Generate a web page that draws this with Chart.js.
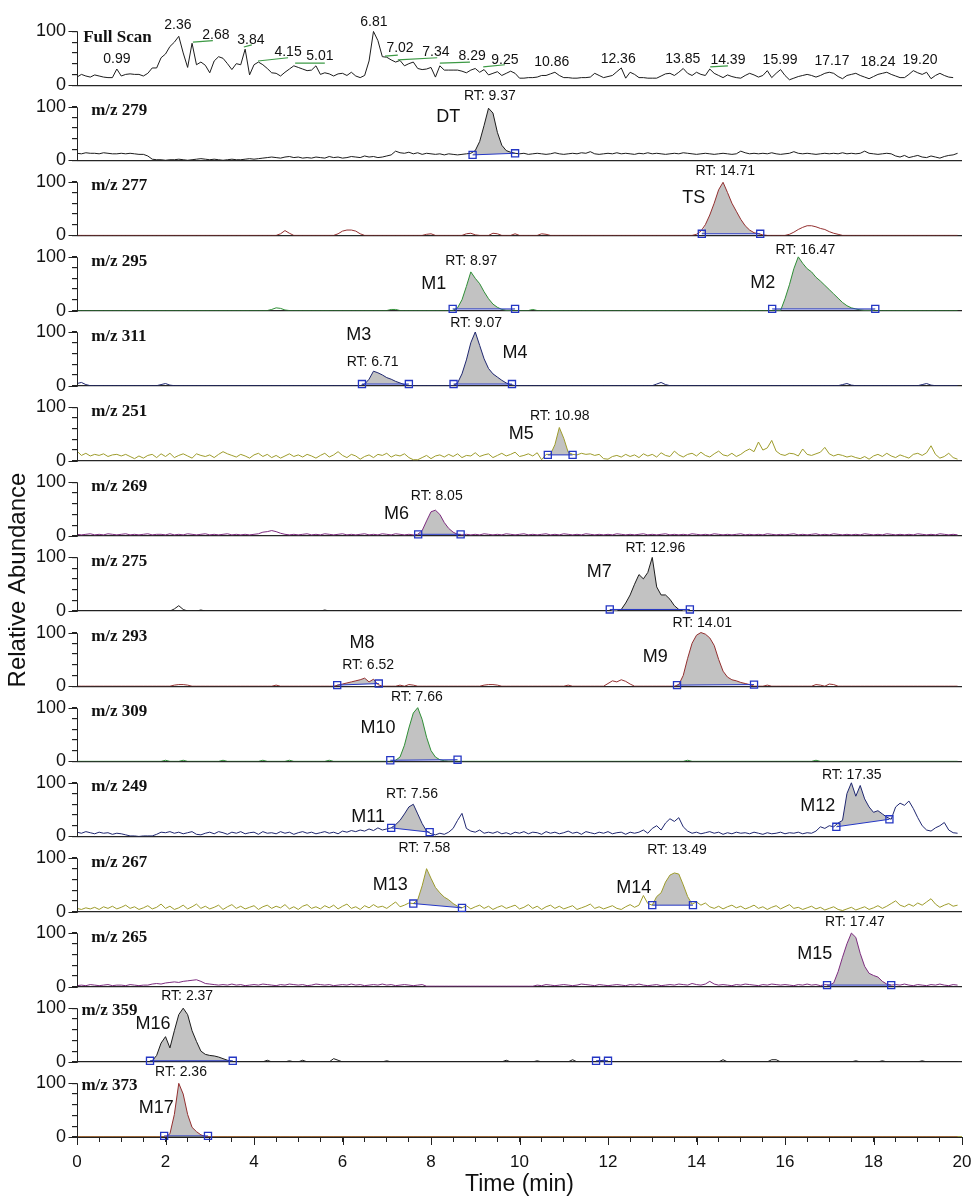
<!DOCTYPE html>
<html>
<head>
<meta charset="utf-8">
<title>Extracted ion chromatograms</title>
<script src="https://cdn.jsdelivr.net/npm/chart.js@4.4.1/dist/chart.umd.min.js"></script>
<style>
  html, body { margin: 0; padding: 0; background: #fff; }
  #chromChart { display: block; }
</style>
</head>
<body>
<canvas id="chromChart" width="974" height="1199"></canvas>
<script>
// one value every 0.1 min, 0.0 .. 20.0 min (201 values per trace)
const POINTS_PER_MIN = 10;

const panelNames = ['Full Scan', 'm/z 279', 'm/z 277', 'm/z 295', 'm/z 311', 'm/z 251', 'm/z 269', 'm/z 275',
                    'm/z 293', 'm/z 309', 'm/z 249', 'm/z 267', 'm/z 265', 'm/z 359', 'm/z 373'];

const fullScan = [
  15,20,17,15,19,17,15,14,14,30, 17,20,21,20,20,17,22,32,32,51, 58,72,80,91,60,33,78,38,43,37,
  23,45,53,50,40,29,40,38,67,19, 38,43,38,31,23,22,17,24,30,36, 33,30,27,28,36,20,23,21,17,21,
  22,18,24,17,14,18,45,100,83,53, 52,47,43,46,36,40,43,31,29,30, 33,15,36,28,28,28,28,26,23,28,
  31,24,29,19,22,25,18,22,26,22, 13,13,14,14,15,18,18,21,24,18, 14,14,13,13,14,14,15,22,18,14,
  16,18,25,32,13,24,20,14,14,13, 13,13,17,21,22,18,24,31,22,18, 24,20,18,30,22,18,14,19,16,14,
  13,18,22,19,15,18,27,14,22,29, 18,10,13,16,18,20,18,15,18,22, 24,22,16,12,18,20,22,18,15,12,
  16,20,22,24,20,17,14,14,20,27, 23,20,24,12,18,22,18,15,14,null, null];

const mz279 = [
  13,12,14,13,13,12,14,13,12,12, 13,12,13,12,11,11,8,2,1,1, 0,1,1,2,1,0,1,2,3,2,
  1,2,1,0,1,2,1,1,2,3, 2,3,4,5,6,5,4,6,7,5, 6,4,5,4,6,5,4,7,5,6,
  4,5,7,6,5,8,6,7,5,6, 8,10,17,14,13,15,12,14,11,13, 12,11,12,10,12,11,10,11,12,13,
  18,35,65,97,88,52,28,18,15,13, 12,13,11,12,13,12,11,12,14,12, 11,12,13,12,14,13,16,12,11,12,
  13,12,14,12,13,12,11,13,12,14, 12,13,12,11,12,13,12,14,13,12, 11,12,13,12,11,12,13,12,11,12,
  17,14,12,13,12,13,12,14,12,11, 12,13,16,13,12,13,12,11,12,13, 12,13,12,14,12,13,12,13,17,13,
  12,11,12,13,12,8,6,9,5,7, 9,6,5,8,6,4,7,9,10,13, null];

const mz277 = [
  0,0,0,0,0,0,0,0,0,0, 0,0,0,0,0,0,0,0,0,0, 0,0,0,0,0,0,0,0,0,0,
  0,0,0,0,0,0,0,0,0,0, 0,0,0,0,0,0,3,9,4,0, 0,0,0,0,0,0,0,0,0,3,
  8,10,10,8,3,0,0,0,0,0, 0,0,0,0,0,0,0,0,0,2, 3,0,0,0,0,0,0,0,3,4,
  1,0,0,0,4,3,0,0,0,3, 0,0,0,0,0,3,2,0,0,0, 0,0,0,0,0,0,0,0,0,0,
  0,0,0,0,0,0,0,0,0,0, 0,0,0,0,0,0,0,0,0,0, 2,8,20,38,60,85,99,80,60,45,
  30,18,10,5,3,1,0,0,0,0, 0,2,6,11,15,18,18,16,13,11, 7,4,2,0,0,0,0,0,0,0,
  0,0,0,0,0,0,0,0,0,0, 0,0,0,0,0,0,0,0,0,0, null];

const mz295 = [
  0,0,0,0,0,0,0,0,0,0, 0,0,0,0,0,0,0,0,0,0, 0,0,0,0,0,0,0,0,0,0,
  0,0,0,0,0,0,0,0,0,0, 0,0,0,0,2,5,4,1,0,0, 0,0,0,0,0,0,0,0,0,0,
  0,0,0,0,0,0,0,0,0,0, 0,2,2,0,0,0,0,0,0,0, 0,0,0,0,0,0,5,20,45,72,
  60,50,35,22,12,6,2,0,0,0, 0,0,0,2,0,0,0,0,0,0, 0,0,0,0,0,0,0,0,0,0,
  0,0,0,0,0,0,0,0,0,0, 0,0,0,0,0,0,0,0,0,0, 0,0,0,0,0,0,0,0,0,0,
  0,0,0,0,0,0,0,0,0,0, 22,48,78,100,88,78,72,62,55,47, 39,31,23,15,9,5,3,1,0,0,
  0,0,0,0,0,0,0,0,0,0, 0,0,0,0,0,0,0,0,0,0, null];

const mz311 = [
  4,6,2,0,0,0,0,0,0,0, 0,0,0,0,0,0,0,0,0,2, 4,1,0,0,0,0,0,0,0,0,
  0,0,0,0,0,0,0,0,0,0, 0,0,0,0,0,0,0,0,0,0, 0,0,0,0,0,0,0,0,0,0,
  0,0,0,0,0,3,12,27,24,20, 15,12,8,5,2,0,0,0,0,0, 0,0,0,0,0,0,5,22,48,80,
  100,75,50,32,22,16,10,5,2,0, 0,0,0,0,0,0,0,0,0,0, 0,0,0,0,0,0,0,0,0,0,
  0,0,0,0,0,0,0,0,0,0, 0,3,6,2,0,0,0,0,0,0, 0,0,0,0,0,0,0,0,0,0,
  0,0,0,0,0,0,0,0,0,0, 0,0,0,0,0,0,0,0,0,0, 0,0,0,2,4,1,0,0,0,0,
  0,0,0,0,0,0,0,0,0,0, 0,2,4,1,0,0,0,0,0,0, null];

const mz251 = [
  18,10,14,9,12,10,13,8,11,12, 9,12,8,4,9,5,10,12,6,13, 8,14,6,10,13,9,5,13,10,8,
  11,6,12,17,13,10,7,12,9,5, 11,14,8,12,6,10,5,9,13,8, 11,7,12,9,5,10,14,7,11,17,
  10,6,12,9,3,8,11,6,12,10, 14,7,11,9,13,6,2,2,6,10, 4,9,11,7,12,8,13,6,10,9,
  15,8,11,13,6,10,14,9,12,16, 8,10,13,9,15,2,12,12,30,62, 42,16,12,11,14,12,13,10,12,4,
  3,8,10,7,12,8,11,6,13,9, 12,7,15,10,8,18,11,7,12,14, 9,16,10,7,13,18,11,9,14,8,
  12,18,22,17,35,20,24,38,18,12, 10,14,13,9,22,12,10,13,16,25, 13,9,12,10,7,9,6,4,8,3,
  9,12,8,14,9,6,11,8,5,12, 14,10,15,28,12,5,8,14,6,3, null];

const mz269 = [
  3,2,3,4,2,3,2,4,3,2, 3,4,2,3,2,3,4,2,3,3, 2,4,2,3,2,4,3,2,3,4,
  2,3,2,3,4,2,3,2,3,2, 3,4,7,8,10,8,5,3,2,3, 2,3,4,2,3,2,4,3,2,3,
  4,2,3,2,3,4,2,3,2,4, 3,2,4,3,2,3,2,3,10,28, 45,48,40,25,14,7,3,2,3,2,
  3,2,4,3,2,3,2,4,3,2, 3,4,2,3,2,3,4,2,3,2, 4,3,2,3,2,4,3,2,3,2,
  3,2,4,3,2,3,2,3,4,2, 3,2,3,4,2,3,2,3,2,4, 3,2,3,2,4,3,2,3,2,3,
  4,2,3,2,3,2,4,3,2,3, 2,3,4,2,3,2,3,4,2,3, 2,4,3,2,3,2,3,2,4,3,
  2,3,2,4,3,2,3,2,3,2, 4,3,2,3,2,4,3,2,3,2, null];

const mz275 = [
  0,0,0,0,0,0,0,0,0,0, 0,0,0,0,0,0,0,0,0,0, 0,0,4,10,3,0,0,0,2,0,
  0,0,0,0,0,0,0,0,0,0, 0,0,0,0,0,0,0,0,0,0, 0,0,0,0,0,0,2,0,0,0,
  0,0,0,0,0,0,0,0,0,0, 0,0,0,0,0,0,0,0,0,0, 0,0,0,0,0,0,0,0,0,0,
  0,0,0,0,0,0,0,0,0,0, 0,0,0,0,0,0,0,0,0,0, 0,0,0,0,0,0,0,0,0,0,
  0,0,0,3,15,30,50,68,60,72, 100,45,30,30,22,10,3,0,0,0, 0,0,0,0,0,0,0,0,0,0,
  0,0,0,0,0,0,0,0,0,0, 0,0,0,0,0,0,0,0,0,0, 0,0,0,0,0,0,0,0,0,0,
  0,0,0,0,0,0,0,0,0,0, 0,0,0,0,0,0,0,0,0,0, null];

const mz293 = [
  0,0,0,0,0,0,0,0,0,0, 0,0,0,0,0,0,0,0,0,0, 0,0,2,3,3,2,0,0,0,0,
  0,0,0,0,0,0,0,0,0,0, 0,0,0,0,0,2,0,0,0,0, 0,0,0,0,0,0,0,0,0,2,
  4,6,8,10,12,15,8,13,3,0, 0,0,0,2,0,3,2,0,0,0, 0,0,0,0,0,0,0,0,0,0,
  0,0,2,3,3,2,0,0,0,0, 0,0,0,0,0,0,0,0,0,0, 0,2,0,0,0,0,0,0,0,0,
  5,10,8,12,9,4,0,0,0,0, 0,0,0,0,0,0,3,20,52,80, 95,100,97,90,76,50,28,17,12,10,
  7,5,3,0,0,0,2,0,0,0, 0,0,0,0,0,0,0,3,2,0, 4,3,0,0,0,0,0,0,0,0,
  0,0,0,0,0,0,0,0,0,0, 0,0,0,0,0,0,0,0,0,0, null];

const mz309 = [
  0,0,0,0,0,0,0,0,0,0, 0,0,0,0,0,0,0,0,0,0, 2,0,0,0,2,0,0,0,0,0,
  0,0,0,2,0,0,0,0,0,0, 0,0,2,0,0,0,0,0,2,0, 0,0,0,0,0,0,0,2,0,0,
  0,0,0,0,0,0,0,0,0,0, 0,0,2,8,30,62,90,100,78,45, 20,8,3,1,0,0,0,0,0,0,
  0,0,0,0,0,0,0,0,0,0, 0,0,0,0,0,0,0,0,0,0, 0,0,0,0,0,0,0,0,0,0,
  0,0,0,0,0,0,0,0,0,0, 0,0,0,0,0,0,0,0,2,0, 0,0,0,0,0,0,0,0,0,0,
  0,0,0,0,0,0,0,0,0,0, 0,0,0,0,0,0,0,2,0,0, 0,0,0,0,0,0,0,0,0,0,
  0,0,0,0,0,0,0,0,0,0, 0,0,0,0,0,0,0,0,0,0, null];

const mz249 = [
  8,6,9,7,5,8,6,7,4,6, 5,3,1,1,0,1,1,1,4,8, 7,9,6,8,5,7,9,4,3,6,
  8,5,9,7,4,8,6,9,5,7, 8,4,9,6,7,5,9,6,8,4, 7,9,6,8,5,7,9,6,8,5,
  10,8,11,9,12,10,14,11,16,12, 14,16,22,30,42,55,60,42,24,10, 5,3,6,4,8,15,30,43,15,10,
  8,12,6,8,6,9,5,7,4,8, 6,9,5,8,7,4,9,6,8,5, 7,10,6,8,4,9,7,5,8,6,
  9,5,7,8,4,8,6,8,12,6, 15,20,12,25,33,28,35,18,10,6, 8,5,7,9,6,8,4,7,5,8,
  6,7,5,8,6,4,7,5,6,8, 5,7,6,8,5,7,6,10,18,15, 20,18,25,30,80,100,75,95,70,55,
  45,48,42,36,32,55,62,58,66,52, 35,20,12,10,16,20,26,12,7,6, null];

const mz267 = [
  6,4,7,5,8,4,9,6,10,5, 8,12,6,9,4,7,11,5,8,14, 6,10,4,7,12,5,9,14,6,10,
  5,8,12,4,9,13,6,10,5,8, 11,4,9,12,6,10,7,13,5,9, 4,10,13,6,9,5,11,7,12,5,
  10,14,6,9,4,11,7,13,8,10, 6,12,18,9,12,16,15,22,48,80, 62,45,35,27,22,15,10,7,11,5,
  9,12,6,10,4,8,11,6,9,12, 5,8,13,6,10,4,9,12,6,10, 5,8,11,4,7,10,14,6,9,5,
  8,11,6,4,9,13,8,12,30,15, 12,28,35,55,68,72,70,50,28,14, 18,12,16,9,6,10,5,9,12,7,
  10,5,8,12,6,9,4,8,11,5, 9,13,6,8,4,7,10,5,8,3, 6,9,4,2,5,8,3,6,9,4,
  7,11,6,10,15,20,12,9,14,10, 16,12,18,24,14,8,12,15,10,12, null];

const mz265 = [
  2,3,2,4,3,2,3,4,2,3, 3,2,4,3,2,3,3,5,6,5, 7,8,9,8,10,11,12,13,10,6,
  5,4,3,4,3,5,3,4,2,3, 4,3,5,4,3,2,4,3,5,4, 3,4,2,3,5,4,3,4,2,3,
  4,3,5,3,4,2,3,4,3,5, 3,4,2,3,4,3,2,3,4,1, 1,1,1,1,1,1,1,1,1,1,
  1,1,1,1,1,1,1,1,1,1, 1,1,1,1,3,2,4,3,2,3, 4,3,2,3,5,4,3,2,4,3,
  2,3,4,3,2,4,3,5,3,2, 3,4,2,3,4,3,5,4,3,6, 4,3,5,10,5,3,4,3,2,4,
  3,5,4,3,2,4,3,5,4,3, 4,3,2,4,3,5,3,4,2,4, 3,7,28,55,80,100,92,62,38,25,
  21,18,10,5,3,4,3,5,3,2, 4,3,2,4,3,5,3,2,4,3, null];

const mz359 = [
  0,0,0,0,0,0,0,0,0,0, 0,0,0,0,0,0,0,2,12,35, 47,26,58,88,100,88,58,38,20,14,
  12,11,9,6,3,1,0,0,0,0, 0,0,0,3,0,0,0,0,2,0, 0,3,0,0,0,0,0,0,6,3,
  0,0,0,0,0,0,0,0,0,0, 2,0,0,0,0,0,0,0,0,0, 0,0,0,0,0,0,0,0,0,0,
  0,0,0,0,0,0,0,3,0,0, 0,0,0,0,2,0,0,0,0,0, 0,0,4,0,0,0,0,0,2,3,
  0,0,0,0,0,0,0,0,0,0, 0,0,0,0,0,0,0,0,0,0, 0,0,0,0,0,0,4,0,0,0,
  0,0,0,0,0,0,0,4,4,0, 0,0,0,0,0,0,0,0,0,0, 0,0,0,0,0,0,2,0,0,0,
  0,0,2,0,0,0,0,0,0,0, 0,2,0,0,0,0,0,0,0,0, null];

const mz373 = [
  0,0,0,0,0,0,0,0,0,0, 0,0,0,0,0,0,0,0,0,0, 0,6,42,100,80,42,18,10,4,1,
  0,0,0,0,0,0,0,0,0,0, 0,0,0,0,0,0,0,0,0,0, 0,0,0,0,0,0,0,0,0,0,
  0,0,0,0,0,0,0,0,0,0, 0,0,0,0,0,0,0,0,0,0, 0,0,0,0,0,0,0,0,0,0,
  0,0,0,0,0,0,0,0,0,0, 0,0,0,0,0,0,0,0,0,0, 0,0,0,0,0,0,0,0,0,0,
  0,0,0,0,0,0,0,0,0,0, 0,0,0,0,0,0,0,0,0,0, 0,0,0,0,0,0,0,0,0,0,
  0,0,0,0,0,0,0,0,0,0, 0,0,0,0,0,0,0,0,0,0, 0,0,0,0,0,0,0,0,0,0,
  0,0,0,0,0,0,0,0,0,0, 0,0,0,0,0,0,0,0,0,0, null];

const traces = [fullScan, mz279, mz277, mz295, mz311, mz251, mz269, mz275,
                mz293, mz309, mz249, mz267, mz265, mz359, mz373];

// integration windows: panel, start [min, %], end [min, %]
const peakPanel = [1, 2, 3, 3, 4, 4, 5, 6, 7, 8, 8, 9, 10, 10, 11, 11, 12, 13, 13, 14];
const peakStart = [[8.94, 10], [14.12, 3], [8.49, 3], [15.71, 3], [6.44, 3], [8.51, 3], [10.64, 11],
                   [7.71, 3], [12.04, 3], [5.88, 2], [13.56, 2], [7.08, 2], [7.1, 16], [17.16, 18],
                   [7.6, 15], [13.0, 12], [16.95, 3], [1.65, 2], [11.73, 2], [1.97, 2]];
const peakEnd = [[9.9, 13], [15.44, 3], [9.9, 3], [18.04, 3], [7.5, 3], [9.83, 3], [11.2, 11],
                 [8.67, 3], [13.85, 3], [6.82, 5], [15.3, 3], [8.6, 3], [7.97, 8], [18.36, 32],
                 [8.7, 7], [13.92, 12], [18.4, 3], [3.52, 2], [12.0, 2], [2.96, 2]];

// retention time tags: panel, text, min, %
const rtLabels = [
  [1, 'RT: 9.37', 9.33, 120], [2, 'RT: 14.71', 14.65, 119], [3, 'RT: 8.97', 8.91, 92],
  [3, 'RT: 16.47', 16.46, 113], [4, 'RT: 9.07', 9.02, 116], [4, 'RT: 6.71', 6.68, 44],
  [5, 'RT: 10.98', 10.91, 83], [6, 'RT: 8.05', 8.13, 75], [7, 'RT: 12.96', 13.07, 118],
  [8, 'RT: 6.52', 6.58, 40], [8, 'RT: 14.01', 14.13, 118], [9, 'RT: 7.66', 7.68, 120],
  [10, 'RT: 7.56', 7.57, 79], [10, 'RT: 17.35', 17.51, 115], [11, 'RT: 7.58', 7.85, 118],
  [11, 'RT: 13.49', 13.56, 114], [12, 'RT: 17.47', 17.58, 120], [13, 'RT: 2.37', 2.49, 122],
  [14, 'RT: 2.36', 2.35, 120]];

const compoundLabels = [
  [1, 'DT', 8.39, 80], [2, 'TS', 13.94, 70], [3, 'M1', 8.06, 50], [3, 'M2', 15.5, 52],
  [4, 'M3', 6.37, 95], [4, 'M4', 9.9, 60], [5, 'M5', 10.04, 50], [6, 'M6', 7.22, 40],
  [7, 'M7', 11.8, 72], [8, 'M8', 6.44, 80], [8, 'M9', 13.07, 54], [9, 'M10', 6.8, 62],
  [10, 'M11', 6.58, 36], [10, 'M12', 16.74, 56], [11, 'M13', 7.08, 49], [11, 'M14', 12.58, 44],
  [12, 'M15', 16.67, 61], [13, 'M16', 1.72, 70], [14, 'M17', 1.79, 54]];

// apex tags of the full scan trace: text, min, %
const scanLabels = [
  ['0.99', 0.9, 49], ['2.36', 2.28, 111], ['2.68', 3.14, 94], ['3.84', 3.93, 84], ['4.15', 4.77, 62],
  ['5.01', 5.49, 54], ['6.81', 6.71, 118], ['7.02', 7.3, 68], ['7.34', 8.11, 62], ['8.29', 8.93, 54],
  ['9.25', 9.67, 47], ['10.86', 10.73, 43], ['12.36', 12.23, 49], ['13.85', 13.69, 49],
  ['14.39', 14.71, 47], ['15.99', 15.89, 47], ['17.17', 17.06, 45], ['18.24', 18.1, 43], ['19.20', 19.05, 47]];
const scanLeaders = [
  [2.62, 80, 3.07, 83], [3.77, 71, 3.95, 75], [4.09, 45, 4.77, 51], [4.93, 41, 5.6, 41],
  [6.96, 54, 7.25, 56], [7.25, 47, 8.14, 51], [8.2, 41, 8.88, 43], [9.18, 34, 9.67, 38], [14.31, 34, 14.71, 36]];

const panelNamePos = [[0.14, 88], [0.32, 92], [0.32, 92], [0.32, 92], [0.32, 92], [0.32, 92], [0.32, 92],
                      [0.32, 92], [0.32, 92], [0.32, 92], [0.32, 92], [0.32, 92], [0.32, 92], [0.1, 96], [0.1, 96]];

// styling
const BLACK = '#1c1c1c', RED = '#932f2f', GREEN = '#2f8f36', NAVY = '#1f2770', OLIVE = '#9e9c2c', PURPLE = '#7d2c7f';
const traceColors = [BLACK, BLACK, RED, GREEN, NAVY, OLIVE, PURPLE, BLACK, RED, GREEN, NAVY, OLIVE, PURPLE, BLACK, RED];
const baseColors = panelNames.map((n, i) => i === 14 ? '#9d9b45' : '#262626');
const markerBlue = '#2436c4';
const peakGray = '#c2c2c2';
const leaderGreen = '#3d9a45';
const SANS = '"Liberation Sans", Arial, sans-serif';
const SERIF = '"Liberation Serif", "Times New Roman", serif';

document.addEventListener('DOMContentLoaded', function() {
    const toPoints = arr => arr.map((v, i) => v === null ? null : {x: i / POINTS_PER_MIN, y: v}).filter(p => p);

    const datasets = [];

    // chromatogram traces
    traces.forEach((trace, p) => {
        datasets.push({
            data: toPoints(trace),
            yAxisID: 'y' + p,
            borderColor: traceColors[p],
            borderWidth: 1,
            pointRadius: 0,
            fill: false,
            order: 1
        });
    });

    // integrated peaks: grey area between trace and baseline, baseline with square end markers
    peakPanel.forEach((p, k) => {
        const [ts, vs] = peakStart[k];
        const [te, ve] = peakEnd[k];
        const area = [{x: ts, y: vs}];
        traces[p].forEach((v, i) => {
            const t = i / POINTS_PER_MIN;
            if (v !== null && t > ts + 1e-6 && t < te - 1e-6) area.push({x: t, y: v});
        });
        area.push({x: te, y: ve});
        datasets.push({
            data: area,
            yAxisID: 'y' + p,
            borderWidth: 0,
            pointRadius: 0,
            backgroundColor: peakGray,
            fill: '+1',
            order: 3
        });
        datasets.push({
            data: [{x: ts, y: vs}, {x: te, y: ve}],
            yAxisID: 'y' + p,
            borderColor: markerBlue,
            borderWidth: 1,
            pointStyle: 'rect',
            pointRadius: 5,
            pointBorderWidth: 1.3,
            pointBorderColor: markerBlue,
            pointBackgroundColor: 'rgba(255,255,255,0)',
            fill: false,
            clip: false,
            order: 0
        });
    });

    const scales = {
        x: {
            type: 'linear',
            min: 0,
            max: 20,
            afterFit: s => { s.height = 62; s.paddingLeft = 0; s.paddingRight = 0; },
            ticks: {
                stepSize: 0.5,
                autoSkip: false,
                maxRotation: 0,
                padding: 10,
                color: '#111',
                font: {family: SANS, size: 17},
                callback: v => (v % 2 === 0 ? v : '')
            },
            grid: {drawOnChartArea: false, color: '#222', tickLength: 5},
            border: {display: true, color: '#222', width: 1},
            title: {
                display: true,
                text: 'Time (min)',
                color: '#111',
                font: {family: SANS, size: 23},
                padding: {top: 0, bottom: 1}
            }
        }
    };

    panelNames.forEach((name, p) => {
        scales['y' + p] = {
            type: 'linear',
            position: 'left',
            stack: 'panels',
            stackWeight: 1,
            weight: panelNames.length - p,
            min: 0,
            max: 140,
            afterFit: s => { s.width = 77; s.paddingTop = 0; s.paddingBottom = 0; },
            afterBuildTicks: s => { s.ticks = [0, 20, 40, 60, 80, 100].map(v => ({value: v})); },
            ticks: {
                autoSkip: false,
                padding: 6,
                color: '#111',
                font: {family: SANS, size: 18},
                callback: v => (v === 0 || v === 100 ? v : '')
            },
            grid: {
                drawOnChartArea: true,
                color: ctx => (ctx.tick && ctx.tick.value === 0 ? baseColors[p] : 'rgba(0,0,0,0)'),
                tickColor: '#222',
                tickLength: 5,
                lineWidth: 1.2
            },
            border: {display: false}
        };
    });

    // axis spines, labels, tags
    const panelDecor = {
        id: 'panelDecor',
        afterDraw(chart) {
            const {ctx, chartArea, scales: sc} = chart;
            const xs = sc.x;
            ctx.save();
            ctx.strokeStyle = '#222';
            ctx.lineWidth = 1;
            ctx.beginPath();
            panelNames.forEach((name, p) => {
                const ys = sc['y' + p];
                const y0 = Math.round(ys.getPixelForValue(0)) + 0.5;
                const y100 = Math.round(ys.getPixelForValue(100)) + 0.5;
                const xa = Math.round(chartArea.left) + 0.5;
                ctx.moveTo(xa, y0);
                ctx.lineTo(xa, y100);
                ctx.moveTo(xa - 9, y0);
                ctx.lineTo(xa, y0);
                ctx.moveTo(xa - 9, y100);
                ctx.lineTo(xa, y100);
            });
            for (let t = 0; t <= 20; t += 2) {
                const px = Math.round(xs.getPixelForValue(t)) + 0.5;
                ctx.moveTo(px, chartArea.bottom);
                ctx.lineTo(px, chartArea.bottom + 8);
            }
            ctx.stroke();

            // leader lines in the full scan
            ctx.strokeStyle = leaderGreen;
            ctx.lineWidth = 1.2;
            ctx.beginPath();
            scanLeaders.forEach(([t1, v1, t2, v2]) => {
                ctx.moveTo(xs.getPixelForValue(t1), sc.y0.getPixelForValue(v1));
                ctx.lineTo(xs.getPixelForValue(t2), sc.y0.getPixelForValue(v2));
            });
            ctx.stroke();

            ctx.fillStyle = '#111';
            ctx.textBaseline = 'middle';

            ctx.textAlign = 'left';
            ctx.font = 'bold 17px ' + SERIF;
            panelNames.forEach((name, p) => {
                const [t, v] = panelNamePos[p];
                ctx.fillText(name, xs.getPixelForValue(t), sc['y' + p].getPixelForValue(v));
            });

            ctx.textAlign = 'center';
            ctx.font = '14px ' + SANS;
            scanLabels.forEach(([text, t, v]) => {
                ctx.fillText(text, xs.getPixelForValue(t), sc.y0.getPixelForValue(v));
            });
            rtLabels.forEach(([p, text, t, v]) => {
                ctx.fillText(text, xs.getPixelForValue(t), sc['y' + p].getPixelForValue(v));
            });

            ctx.font = '18px ' + SANS;
            compoundLabels.forEach(([p, text, t, v]) => {
                ctx.fillText(text, xs.getPixelForValue(t), sc['y' + p].getPixelForValue(v));
            });

            // y axis title
            ctx.translate(18, 580);
            ctx.rotate(-Math.PI / 2);
            ctx.font = '24px ' + SANS;
            ctx.fillText('Relative Abundance', 0, 0);
            ctx.restore();
        }
    };

    new Chart(document.getElementById('chromChart'), {
        type: 'line',
        data: {datasets: datasets},
        options: {
            responsive: false,
            devicePixelRatio: 1,
            animation: false,
            layout: {padding: {top: 10, right: 12, bottom: 0, left: 0}},
            elements: {line: {tension: 0}},
            plugins: {
                legend: {display: false},
                tooltip: {enabled: false},
                title: {display: false}
            },
            scales: scales
        },
        plugins: [panelDecor]
    });
});
</script>
</body>
</html>
